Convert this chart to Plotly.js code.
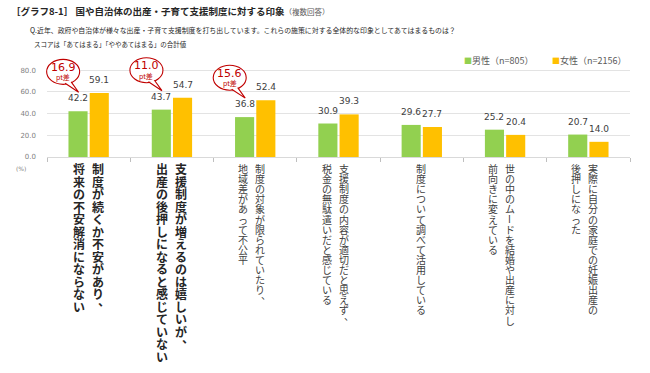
<!DOCTYPE html>
<html><head><meta charset="utf-8">
<script src="https://cdn.plot.ly/plotly-3.0.1.min.js"></script>
<style>html,body{margin:0;padding:0;background:#fff;}#chart{width:650px;height:373px;}</style>
</head><body><div id="chart"></div>
<script>
// ---- data ----
const labelColumns = [
  ['制度が続くか不安があり、', '将来の不安解消にならない'],
  ['支援制度が増えるのは嬉しいが、', '出産の後押しになると感じていない'],
  ['制度の対象が限られていたり、', '地域差があって不公平'],
  ['支援制度の内容が適切だと思えず、', '税金の無駄遣いだと感じている'],
  ['制度について調べて活用している'],
  ['世の中のムードを結婚や出産に対し', '前向きに変えている'],
  ['実際に自分の家庭での妊娠出産の', '後押しになった']
];
const categories = labelColumns.map(c => c.join(''));
const maleValues   = [42.2, 43.7, 36.8, 30.9, 29.6, 25.2, 20.7];
const femaleValues = [59.1, 54.7, 52.4, 39.3, 27.7, 20.4, 14.0];
const seriesNames = ['男性（n=805）', '女性（n=2156）'];
const calloutIndex = [0, 1, 2];
const yTicks = [0, 20, 40, 60, 80];
const titleText = '［グラフ8-1］ 国や自治体の出産・子育て支援制度に対する印象';
const titleNote = '（複数回答）';
const questionText = 'Q.近年、政府や自治体が様々な出産・子育て支援制度を打ち出しています。これらの施策に対する全体的な印象としてあてはまるものは？';
const scoreNote = 'スコアは「あてはまる」「ややあてはまる」の合計値';
const unitText = '(%)';

// ---- styles ----
const boldLabel = [true, true, false, false, false, false, false];
const GREEN = '#92D050', YELLOW = '#FFC000', RED = '#C00000';
const JP = '"Noto Sans CJK JP", "Noto Sans", sans-serif';
const NUM = '"DejaVu Sans", Verdana, sans-serif';

const W = 650, H = 373, L = 47, R = 20, B = 216;
const Y_MAX = 95;
const pxPerUnit = 87 / 80;
const T = H - B - Y_MAX * pxPerUnit;
const pw = W - L - R, ph = H - T - B;
const px2x = p => (p - L) / pw;
const px2y = p => (H - B - p) / ph;
const nCat = categories.length;

const traces = [
  {type: 'bar', x: categories, y: maleValues, name: seriesNames[0], marker: {color: GREEN}, hoverinfo: 'skip'},
  {type: 'bar', x: categories, y: femaleValues, name: seriesNames[1], marker: {color: YELLOW}, hoverinfo: 'skip'}
];

const annotations = [];
const shapes = [];

// value labels
const barOff = 10.6;
[maleValues, femaleValues].forEach((vals, s) => {
  vals.forEach((v, i) => {
    annotations.push({x: categories[i], y: v, xref: 'x', yref: 'y', text: v.toFixed(1),
      showarrow: false, xshift: s === 0 ? -barOff : barOff, yshift: 13, yanchor: 'middle',
      font: {family: NUM, size: 9, color: '#404040'}});
  });
});

// vertical category labels (one annotation per character)
labelColumns.forEach((cols, i) => {
  const bold = boldLabel[i];
  const size = bold ? 12 : 10;
  const step = bold ? 12.5 : 10.1;
  let offs;
  if (cols.length === 1) offs = [-1];
  else offs = bold ? [9, -10] : [5, -12];
  cols.forEach((col, c) => {
    Array.from(col).forEach((ch, k) => {
      let xs = offs[c], ys = -(11.5 + k * step), ang = 0;
      if (ch === 'ー') ang = 90;
      if (ch === '、' || ch === '。') { xs += size * 0.55; ys += size * 0.5; }
      annotations.push({x: categories[i], y: 0, xref: 'x', yref: 'y',
        text: bold ? '<b>' + ch + '</b>' : ch, showarrow: false,
        xshift: xs, yshift: ys, yanchor: 'middle', xanchor: 'center', textangle: ang,
        font: {family: JP, size: size, color: bold ? '#262626' : '#404040'}});
    });
  });
});

// callouts: data position + pixel offset, expressed in paper fractions (not clipped)
calloutIndex.forEach(i => {
  const diff = (femaleValues[i] - maleValues[i]).toFixed(1);
  const m = maleValues[i];
  const PX = p => (i + 0.5) / nCat + p / pw;
  const PY = p => m / Y_MAX + p / ph;
  shapes.push({type: 'circle', xref: 'paper', yref: 'paper', x0: PX(-42), x1: PX(-9), y0: PY(27), y1: PY(52),
    line: {color: RED, width: 1.1}, fillcolor: 'white', layer: 'above'});
  shapes.push({type: 'path', xref: 'paper', yref: 'paper',
    path: 'M' + PX(-23.5) + ',' + PY(28) + ' L' + PX(-10) + ',' + PY(19) + ' L' + PX(-17.5) + ',' + PY(29.5),
    line: {color: RED, width: 1.1}, fillcolor: 'white', layer: 'above'});
  annotations.push({x: i, y: m, xref: 'x', yref: 'y', text: diff, showarrow: false,
    xshift: -25.5, yshift: 44, yanchor: 'middle', font: {family: NUM, size: 11, color: RED}});
  annotations.push({x: i, y: m, xref: 'x', yref: 'y', text: 'pt差', showarrow: false,
    xshift: -25.5, yshift: 34, yanchor: 'middle', font: {family: JP, size: 7, color: RED}});
});

// legend (manual, small squares)
[[GREEN, 462], [YELLOW, 550]].forEach((d, s) => {
  annotations.push({x: px2x(d[1]), y: px2y(60), xref: 'paper', yref: 'paper', xanchor: 'left', yanchor: 'middle',
    showarrow: false, text: '<span style="color:' + d[0] + ';font-size:8px">■</span>' + seriesNames[s],
    font: {family: JP, size: 9, color: '#595959'}});
});

// header texts
annotations.push({x: px2x(28), y: px2y(30), xref: 'paper', yref: 'paper', xanchor: 'left', yanchor: 'middle',
  showarrow: false, text: questionText, font: {family: JP, size: 6.9, color: '#262626'}});
annotations.push({x: px2x(32), y: px2y(44), xref: 'paper', yref: 'paper', xanchor: 'left', yanchor: 'middle',
  showarrow: false, text: scoreNote, font: {family: JP, size: 6.5, color: '#262626'}});
annotations.push({x: px2x(21), y: px2y(169), xref: 'paper', yref: 'paper', xanchor: 'center', yanchor: 'middle',
  showarrow: false, text: unitText, font: {family: NUM, size: 6, color: '#7F7F7F'}});

const layout = {
  width: W, height: H,
  margin: {l: L, r: R, t: T, b: B, pad: 0},
  paper_bgcolor: '#fff', plot_bgcolor: '#fff',
  showlegend: false,
  barmode: 'group', bargap: 0.49, bargroupgap: 0.1,
  title: {text: '<b>' + titleText + '</b><span style="font-size:7.5px;color:#595959;font-weight:normal">' + titleNote + '</span>',
    x: 11 / W, xanchor: 'left', xref: 'container', y: 1 - 12 / H, yanchor: 'middle', yref: 'container',
    font: {family: JP, size: 9.5, color: '#262626'}},
  xaxis: {type: 'category', range: [-0.5, nCat - 0.5], showticklabels: false,
    tickson: 'boundaries', ticks: 'outside', ticklen: 4, tickcolor: '#BFBFBF',
    showline: true, linecolor: '#D9D9D9', linewidth: 1, showgrid: false, zeroline: false, fixedrange: true},
  yaxis: {range: [0, Y_MAX], tickvals: yTicks, ticktext: yTicks.map(v => v.toFixed(1)), showgrid: true,
    gridcolor: '#E3E3E3', zeroline: false, showline: false, ticks: '', ticklabelstandoff: 10,
    tickfont: {family: NUM, size: 7, color: '#7F7F7F'}, fixedrange: true},
  annotations: annotations, shapes: shapes
};

Plotly.newPlot('chart', traces, layout, {staticPlot: true, displayModeBar: false});
</script></body></html>
